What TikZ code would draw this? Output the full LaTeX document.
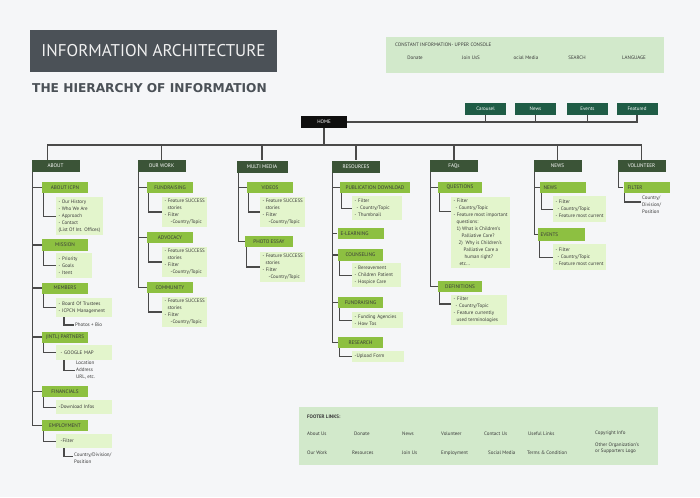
\documentclass[tikz,border=0pt]{standalone}
\usepackage{fontspec}
\setmainfont{PT Sans}
\newfontfamily\widefont{DejaVu Sans}
\usepackage{xcolor}
\definecolor{bgc}{HTML}{F5F6F8}
\definecolor{headgray}{HTML}{4B5157}
\definecolor{colgreen}{HTML}{3B5437}
\definecolor{subgreen}{HTML}{8DC041}
\definecolor{palegreen}{HTML}{E3F5CC}
\definecolor{btngreen}{HTML}{1F5C46}
\definecolor{consolegreen}{HTML}{D2E9CB}
\definecolor{linegray}{HTML}{4A4A4A}
\definecolor{txt}{HTML}{3A3A3A}

\begin{document}
\begin{tikzpicture}[x=1pt,y=-1pt,
  colhead/.style={fill=colgreen,text=white,minimum width=48pt,minimum height=12pt,inner sep=0pt,font=\fontsize{5.2}{6}\selectfont},
  sub/.style={fill=subgreen,text=txt,minimum width=46pt,minimum height=11pt,inner sep=0pt,font=\fontsize{5.2}{6}\selectfont},
  subl/.style={sub,align=left,inner xsep=2.5pt},
  cbox/.style={fill=palegreen,text=txt,anchor=north west,align=left,inner xsep=2.5pt,inner ysep=2pt,font=\fontsize{5}{7}\selectfont},
  leaf/.style={text=txt,align=left,inner xsep=1pt,inner ysep=0pt,font=\fontsize{5}{7}\selectfont},
  btn/.style={fill=btngreen,text=white,minimum width=41pt,minimum height=12pt,inner sep=0pt,font=\fontsize{5}{6}\selectfont},
  tree/.style={draw=linegray,line width=1.2pt},
  flink/.style={text=txt,anchor=west,inner sep=0pt,font=\fontsize{5}{6}\selectfont}]
  \fill[bgc] (0,0) rectangle (700,497); \useasboundingbox (0,0) rectangle (700,497);
  % title
  \node[fill=headgray,minimum width=247pt,minimum height=42pt,inner sep=0pt,text=white!88!gray,font=\fontsize{17}{17}\selectfont] (title) at (153.5,51) {INFORMATION ARCHITECTURE};
  \node[anchor=west,inner sep=0pt,text=headgray,font=\fontsize{12.2}{12}\selectfont\widefont\bfseries] (subtitle) at (32,88.5) {THE HIERARCHY OF INFORMATION};
  % upper console
  \node[fill=consolegreen,minimum width=278pt,minimum height=36pt,inner sep=0pt] (console) at (525,55) {};
  \node[flink] (consttitle) at (395,45) {CONSTANT INFORMATION- UPPER CONSOLE};
  \node[flink,anchor=center] (cdonate) at (415,58) {Donate}; \node[flink,anchor=center] (cjoin) at (471,58) {Join UsS};
  \node[flink,anchor=center] (csocial) at (526,58) {ocial Media}; \node[flink,anchor=center] (csearch) at (577,58) {SEARCH};
  \node[flink,anchor=center] (clang) at (634,58) {LANGUAGE};
  % home
  \node[fill=black!88!gray,text=white,minimum width=46pt,minimum height=12pt,inner sep=0pt,font=\fontsize{5}{6}\selectfont] (home) at (324,122) {HOME};
  \node[btn] (carousel) at (485.5,109) {Carousel}; \node[btn] (newsbtn) at (535.5,109) {News};
  \node[btn] (eventsbtn) at (587.5,109) {Events}; \node[btn] (featured) at (637,109) {Featured};
  \coordinate (bus) at (324,145);
  % about
  \node[colhead] (about) at (55.5,166) {ABOUT};
  \node[sub] (icpn) at (65,187.5) {ABOUT ICPN};
  \node[cbox,minimum height=38pt] (icpnc) at (56,197) {- Our History\\- Who We Are\\- Approach\\- Contact\\(List Of Int. Offices)};
  \node[sub,minimum height=12pt] (mission) at (65,245) {MISSION};
  \node[cbox,text width=31pt,minimum height=25pt] (missionc) at (56,253) {- Priority\\- Goals\\- Itent};
  \node[sub] (members) at (65,288) {MEMBERS};
  \node[cbox,text width=51pt,minimum height=19pt] (membersc) at (56,298) {- Board Of Trustees\\- ICPCN Management};
  \node[leaf,anchor=west] (photos) at (74,325) {Photos + Bio};
  \node[sub] (partners) at (65,337) {(INTL) PARTNERS};
  \node[cbox,text width=51pt,minimum height=15pt] (partnersc) at (56,345) {\hspace*{2pt}- GOOGLE MAP};
  \node[leaf,anchor=west] (location) at (75,370.5) {Location\\Address\\URL, etc.};
  \node[sub] (financials) at (65,391.5) {FINANCIALS};
  \node[cbox,text width=51pt,minimum height=14pt] (financialsc) at (56,400) {-Download Infos};
  \node[sub] (employment) at (65,425.5) {EMPLOYMENT};
  \node[cbox,text width=51pt,minimum height=14pt] (employmentc) at (56,434) {\hspace*{2pt}-Filter};
  \node[leaf,anchor=north west] (empcountry) at (73,453) {Country/Division/\\Position};
  % our work
  \node[colhead] (ourwork) at (161.5,166) {OUR WORK};
  \node[sub] (fundraising) at (170,187.5) {FUNDRAISING};
  \node[cbox,minimum height=29pt] (fundraisingc) at (162,197) {- Feature SUCCESS\\\hspace*{3pt}stories\\- Filter\\\hspace*{6pt}-Country/Topic};
  \node[sub] (advocacy) at (170,237.5) {ADVOCACY};
  \node[cbox,minimum height=29pt] (advocacyc) at (162,247) {- Feature SUCCESS\\\hspace*{3pt}stories\\- Filter\\\hspace*{6pt}-Country/Topic};
  \node[sub] (community) at (170,287.5) {COMMUNITY};
  \node[cbox,minimum height=29pt] (communityc) at (162,297) {- Feature SUCCESS\\\hspace*{3pt}stories\\- Filter\\\hspace*{6pt}-Country/Topic};
  % multi media
  \node[colhead,minimum width=51pt] (multimedia) at (262,166.5) {MULTI MEDIA};
  \node[sub] (videos) at (270,187.5) {VIDEOS};
  \node[cbox,minimum height=29pt] (videosc) at (260,197) {- Feature SUCCESS\\\hspace*{3pt}stories\\- Filter\\\hspace*{6pt}-Country/Topic};
  \node[sub,minimum width=48pt] (photoessay) at (269,241.5) {PHOTO ESSAY};
  \node[cbox,minimum height=28pt] (photoessayc) at (260,252) {- Feature SUCCESS\\\hspace*{3pt}stories\\- Filter\\\hspace*{6pt}-Country/Topic};
  % resources
  \node[colhead] (resources) at (356,166.5) {RESOURCES};
  \node[sub,minimum width=70pt] (publication) at (375,187.5) {PUBLICATION DOWNLOAD};
  \node[cbox,text width=45pt,minimum height=24pt] (publicationc) at (352,196) {- Filter\\\hspace*{2pt}- Country/Topic\\- Thumbnail};
  \node[subl,text width=40pt] (elearning) at (360.5,233.5) {E-LEARNING};
  \node[sub,minimum width=45pt,minimum height=12pt] (counseling) at (360.5,255) {COUNSELING};
  \node[cbox,text width=44pt,minimum height=24pt] (counselingc) at (352,263) {- Bereavement\\- Children Patient\\- Hospice Care};
  \node[sub,minimum width=45pt] (fundraisingr) at (360.5,302.5) {FUNDRAISING};
  \node[cbox,text width=46pt,minimum height=16pt] (fundraisingrc) at (352,312) {- Funding Agencies\\- How Tos};
  \node[sub,minimum width=45pt] (research) at (360.5,342.5) {RESEARCH};
  \node[cbox,text width=47pt,minimum height=11pt] (researchc) at (352,351) {-Upload Form};
  % faqs
  \node[colhead] (faqs) at (454,166) {FAQs};
  \node[sub,minimum width=44pt] (questions) at (460,187.5) {QUESTIONS};
  \node[cbox,minimum height=71pt] (questionsc) at (451,197) {- Filter\\\hspace*{2pt}- Country/Topic\\- Feature most important\\\hspace*{3pt}questions:\\\hspace*{3pt}1) What is Children's\\\hspace*{8pt}Palliative Care?\\\hspace*{5pt}2)\ \ Why is Children's\\\hspace*{10pt}Palliative Care a\\\hspace*{11pt}human right?\\\hspace*{6pt}etc...};
  \node[sub,minimum width=44pt] (definitions) at (460,286.5) {DEFINITIONS};
  \node[cbox,text width=51pt,minimum height=29pt] (definitionsc) at (451,295) {- Filter\\\hspace*{2pt}- Country/Topic\\- Feature currently\\\hspace*{3pt}used terminologies};
  % news
  \node[colhead] (news) at (557.5,166) {NEWS};
  \node[subl,text width=39pt] (newssub) at (563,187.5) {NEWS};
  \node[cbox,minimum height=26pt] (newsc) at (553,196) {- Filter\\\hspace*{2pt}- Country/Topic\\- Feature most current};
  \node[subl,text width=42pt,minimum height=13pt] (events) at (561.5,234.5) {EVENTS};
  \node[cbox,minimum height=26pt] (eventsc) at (553,244) {- Filter\\\hspace*{2pt}- Country/Topic\\- Feature most current};
  % volunteer
  \node[colhead] (volunteer) at (641.5,166) {VOLUNTEER};
  \node[subl,text width=38pt] (filter) at (646.5,187.5) {FILTER};
  \node[leaf,anchor=north west] (volcountry) at (641,196) {Country/\\Division/\\Position};
  % footer
  \node[fill=consolegreen,minimum width=359pt,minimum height=58pt,inner sep=0pt] (footer) at (478.5,436) {};
  \node[flink,font=\fontsize{5}{6}\selectfont\bfseries] (ftitle) at (307,417) {FOOTER LINKS:};
  \node[flink] (fabout) at (307,434) {About Us}; \node[flink] (fdonate) at (354,434) {Donate}; \node[flink] (fnews) at (402,434) {News};
  \node[flink] (fvolunteer) at (441,434) {Volunteer}; \node[flink] (fcontact) at (484,434) {Contact Us}; \node[flink] (fuseful) at (528,434) {Useful Links};
  \node[flink] (fcopyright) at (595,433) {Copyright Info};
  \node[flink] (fourwork) at (307,453) {Our Work}; \node[flink] (fresources) at (352,453) {Resources}; \node[flink] (fjoin) at (402,453) {Join Us};
  \node[flink] (femployment) at (441,453) {Employment}; \node[flink] (fsocial) at (488,453) {Social Media}; \node[flink] (fterms) at (527,453) {Terms \& Condition};
  \node[flink,align=left] (fother) at (595,448) {Other Organization's\\or Supporters Logo};
  % connectors
  \draw[tree] (home.east) -| (featured.south); \draw[tree] (carousel.south) -- (carousel.south |- home.east);
  \draw[tree] (newsbtn.south) -- (newsbtn.south |- home.east); \draw[tree] (eventsbtn.south) -- (eventsbtn.south |- home.east);
  \draw[tree] (home.south) -- (bus); \draw[tree] (bus) -| ([xshift=-8pt]about.north); \draw[tree] (bus) -| (ourwork.north);
  \draw[tree] (bus) -| (multimedia.north); \draw[tree] (bus) -| (resources.north); \draw[tree] (bus) -| (faqs.north);
  \draw[tree] (bus) -| (news.north); \draw[tree] (bus) -| (volunteer.north);
  \draw[tree] ([xshift=1pt]about.south west) |- (icpn.west); \draw[tree] ([xshift=1pt]about.south west) |- (mission.west);
  \draw[tree] ([xshift=1pt]about.south west) |- (members.west); \draw[tree] ([xshift=1pt]about.south west) |- (partners.west);
  \draw[tree] ([xshift=1pt]about.south west) |- (financials.west); \draw[tree] ([xshift=1pt]about.south west) |- (employment.west);
  \draw[tree] ([xshift=1.5pt]icpn.south west) |- (icpnc.west); \draw[tree] ([xshift=1.5pt]mission.south west) |- (missionc.west);
  \draw[tree] ([xshift=1.5pt]members.south west) |- (membersc.west); \draw[tree] ([xshift=1.5pt]partners.south west) |- (partnersc.west);
  \draw[tree] ([xshift=1.5pt]financials.south west) |- (financialsc.west); \draw[tree] ([xshift=1.5pt]employment.south west) |- (employmentc.west);
  \draw[tree] ([xshift=8pt]membersc.south west) |- (photos.west); \draw[tree] ([xshift=8pt]partnersc.south west) |- (location.west);
  \draw[tree] ([xshift=8pt]employmentc.south west) |- ([yshift=-3.5pt]empcountry.north west);
  \draw[tree] ([xshift=1pt]ourwork.south west) |- (fundraising.west); \draw[tree] ([xshift=1pt]ourwork.south west) |- (advocacy.west);
  \draw[tree] ([xshift=1pt]ourwork.south west) |- (community.west);
  \draw[tree] ([xshift=1.5pt]fundraising.south west) |- (fundraisingc.west); \draw[tree] ([xshift=1.5pt]advocacy.south west) |- (advocacyc.west);
  \draw[tree] ([xshift=1.5pt]community.south west) |- (communityc.west);
  \draw[tree] ([xshift=2pt]multimedia.south west) |- (videos.west); \draw[tree] ([xshift=2pt]multimedia.south west) |- (photoessay.west);
  \draw[tree] ([xshift=1.5pt]videos.south west) |- (videosc.west); \draw[tree] ([xshift=1.5pt]photoessay.south west) |- (photoessayc.west);
  \draw[tree] ([xshift=1pt]resources.south west) |- (publication.west); \draw[tree] ([xshift=1pt]resources.south west) |- (elearning.west);
  \draw[tree] ([xshift=1pt]resources.south west) |- (counseling.west); \draw[tree] ([xshift=1pt]resources.south west) |- (fundraisingr.west);
  \draw[tree] ([xshift=1pt]resources.south west) |- (research.west);
  \draw[tree] ([xshift=1.5pt]publication.south west) |- (publicationc.west); \draw[tree] ([xshift=1.5pt]counseling.south west) |- (counselingc.west);
  \draw[tree] ([xshift=1.5pt]fundraisingr.south west) |- (fundraisingrc.west); \draw[tree] ([xshift=1.5pt]research.south west) |- (researchc.west);
  \draw[tree] ([xshift=1pt]faqs.south west) |- (questions.west); \draw[tree] ([xshift=1pt]faqs.south west) |- (definitions.west);
  \draw[tree] ([xshift=1.5pt]questions.south west) |- ([yshift=21pt]questionsc.west); \draw[tree] ([xshift=1.5pt]definitions.south west) |- ([yshift=6pt]definitionsc.west);
  \draw[tree] ([xshift=1pt]news.south west) |- (newssub.west); \draw[tree] ([xshift=1pt]news.south west) |- (events.west);
  \draw[tree] ([xshift=1.5pt]newssub.south west) |- (newsc.west); \draw[tree] ([xshift=1.5pt]events.south west) |- (eventsc.west);
  \draw[tree] ([xshift=1pt]volunteer.south west) |- (filter.west);
  \draw[tree] ([xshift=1.5pt]filter.south west) |- ([yshift=-6pt]volcountry.north west);
\end{tikzpicture}
\end{document}
